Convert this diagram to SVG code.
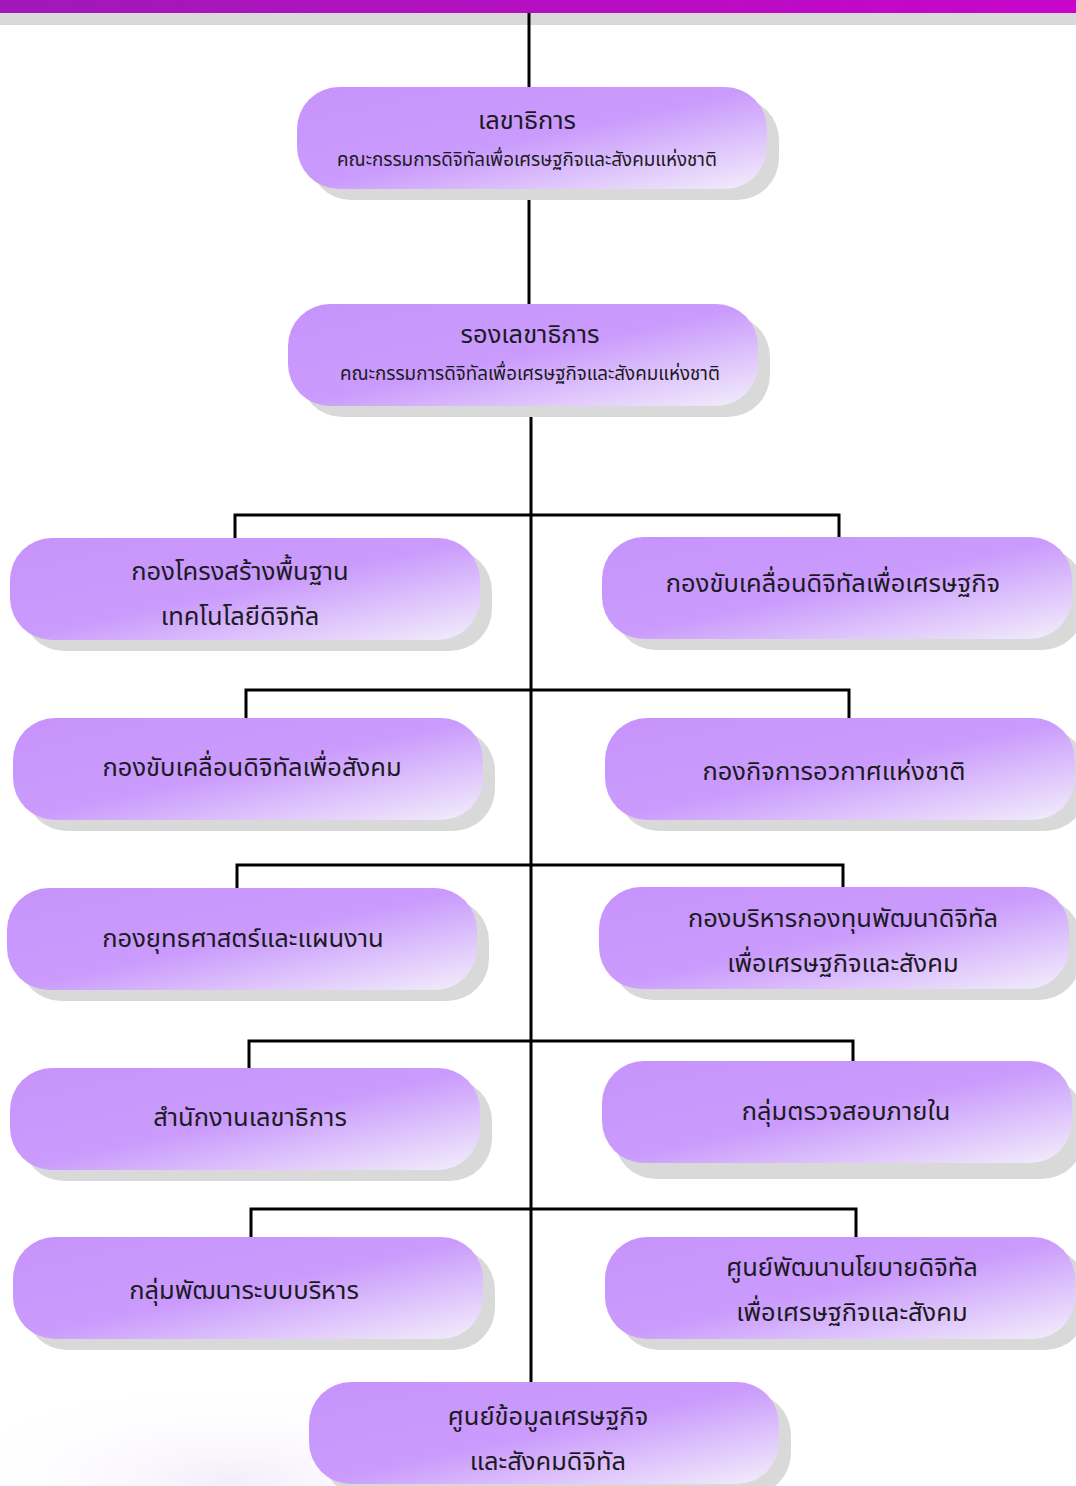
<svg xmlns="http://www.w3.org/2000/svg" width="1076" height="1486" viewBox="0 0 1076 1486">
<defs>
<linearGradient id="bar" x1="0" y1="0" x2="1" y2="0">
<stop offset="0" stop-color="#a019b8"/>
<stop offset="1" stop-color="#c805c9"/>
</linearGradient>
<linearGradient id="nodefill" x1="0" y1="0" x2="1" y2="1">
<stop offset="0" stop-color="#c793fc"/>
<stop offset="0.5" stop-color="#ca9bfc"/>
<stop offset="1" stop-color="#f3effb"/>
</linearGradient>
<radialGradient id="cloud" cx="0.5" cy="0.5" r="0.5">
<stop offset="0" stop-color="#ece2f8" stop-opacity="0.6"/>
<stop offset="1" stop-color="#ffffff" stop-opacity="0"/>
</radialGradient>
</defs>
<style>
.sh{fill:#d9d9d9}
.bx{fill:url(#nodefill)}
.t{font-family:"Noto Sans Thai","Noto Sans","DejaVu Sans",sans-serif;font-size:25.5px;fill:#1c1a24;text-anchor:middle}
.s{font-family:"Noto Sans Thai","Noto Sans","DejaVu Sans",sans-serif;font-size:18.8px;fill:#1c1a24;text-anchor:middle}
.ln{fill:none;stroke:#000;stroke-width:3}
</style>
<rect width="1076" height="1486" fill="#ffffff"/>
<ellipse cx="230" cy="1480" rx="300" ry="100" fill="url(#cloud)"/>
<rect x="0" y="0" width="1076" height="13" fill="url(#bar)"/>
<rect x="0" y="13" width="1076" height="12" fill="#d9d9d9"/>
<g id="connectors">
<path class="ln" d="M529 13V87"/>
<path class="ln" d="M529 199V304"/>
<path class="ln" d="M531 416V1382"/>
<path class="ln" d="M235 538V515H839V537"/>
<path class="ln" d="M246 718V690H849V718"/>
<path class="ln" d="M237 888V865H843V887"/>
<path class="ln" d="M249 1068V1041H853V1061"/>
<path class="ln" d="M251 1237V1209H856V1237"/>
</g>
<g id="n1">
<rect class="sh" x="309" y="98" width="470" height="102" rx="42"/>
<rect class="bx" x="297" y="87" width="470" height="102" rx="42"/>
<text class="t" x="527" y="129">เลขาธิการ</text>
<text class="s" x="527" y="166">คณะกรรมการดิจิทัลเพื่อเศรษฐกิจและสังคมแห่งชาติ</text>
</g>
<g id="n2">
<rect class="sh" x="300" y="315" width="470" height="102" rx="42"/>
<rect class="bx" x="288" y="304" width="470" height="102" rx="42"/>
<text class="t" x="530" y="343">รองเลขาธิการ</text>
<text class="s" x="530" y="380">คณะกรรมการดิจิทัลเพื่อเศรษฐกิจและสังคมแห่งชาติ</text>
</g>
<g id="l1">
<rect class="sh" x="22" y="549" width="470" height="102" rx="42"/>
<rect class="bx" x="10" y="538" width="470" height="102" rx="42"/>
<text class="t" x="240" y="580">กองโครงสร้างพื้นฐาน</text>
<text class="t" x="240" y="625">เทคโนโลยีดิจิทัล</text>
</g>
<g id="r1">
<rect class="sh" x="614" y="548" width="470" height="102" rx="42"/>
<rect class="bx" x="602" y="537" width="470" height="102" rx="42"/>
<text class="t" x="833" y="592">กองขับเคลื่อนดิจิทัลเพื่อเศรษฐกิจ</text>
</g>
<g id="l2">
<rect class="sh" x="25" y="729" width="470" height="102" rx="42"/>
<rect class="bx" x="13" y="718" width="470" height="102" rx="42"/>
<text class="t" x="252" y="776">กองขับเคลื่อนดิจิทัลเพื่อสังคม</text>
</g>
<g id="r2">
<rect class="sh" x="617" y="729" width="470" height="102" rx="42"/>
<rect class="bx" x="605" y="718" width="470" height="102" rx="42"/>
<text class="t" x="834" y="780">กองกิจการอวกาศแห่งชาติ</text>
</g>
<g id="l3">
<rect class="sh" x="19" y="899" width="470" height="102" rx="42"/>
<rect class="bx" x="7" y="888" width="470" height="102" rx="42"/>
<text class="t" x="243" y="947">กองยุทธศาสตร์และแผนงาน</text>
</g>
<g id="r3">
<rect class="sh" x="611" y="898" width="470" height="102" rx="42"/>
<rect class="bx" x="599" y="887" width="470" height="102" rx="42"/>
<text class="t" x="843" y="927">กองบริหารกองทุนพัฒนาดิจิทัล</text>
<text class="t" x="843" y="972">เพื่อเศรษฐกิจและสังคม</text>
</g>
<g id="l4">
<rect class="sh" x="22" y="1079" width="470" height="102" rx="42"/>
<rect class="bx" x="10" y="1068" width="470" height="102" rx="42"/>
<text class="t" x="250" y="1126">สำนักงานเลขาธิการ</text>
</g>
<g id="r4">
<rect class="sh" x="614" y="1077" width="470" height="102" rx="42"/>
<rect class="bx" x="602" y="1061" width="470" height="102" rx="42"/>
<text class="t" x="846" y="1120">กลุ่มตรวจสอบภายใน</text>
</g>
<g id="l5">
<rect class="sh" x="25" y="1248" width="470" height="102" rx="42"/>
<rect class="bx" x="13" y="1237" width="470" height="102" rx="42"/>
<text class="t" x="244" y="1299">กลุ่มพัฒนาระบบบริหาร</text>
</g>
<g id="r5">
<rect class="sh" x="617" y="1248" width="470" height="102" rx="42"/>
<rect class="bx" x="605" y="1237" width="470" height="102" rx="42"/>
<text class="t" x="852" y="1276">ศูนย์พัฒนานโยบายดิจิทัล</text>
<text class="t" x="852" y="1321">เพื่อเศรษฐกิจและสังคม</text>
</g>
<g id="b1">
<rect class="sh" x="321" y="1393" width="470" height="102" rx="42"/>
<rect class="bx" x="309" y="1382" width="470" height="102" rx="42"/>
<text class="t" x="548" y="1425">ศูนย์ข้อมูลเศรษฐกิจ</text>
<text class="t" x="548" y="1470">และสังคมดิจิทัล</text>
</g>
</svg>
